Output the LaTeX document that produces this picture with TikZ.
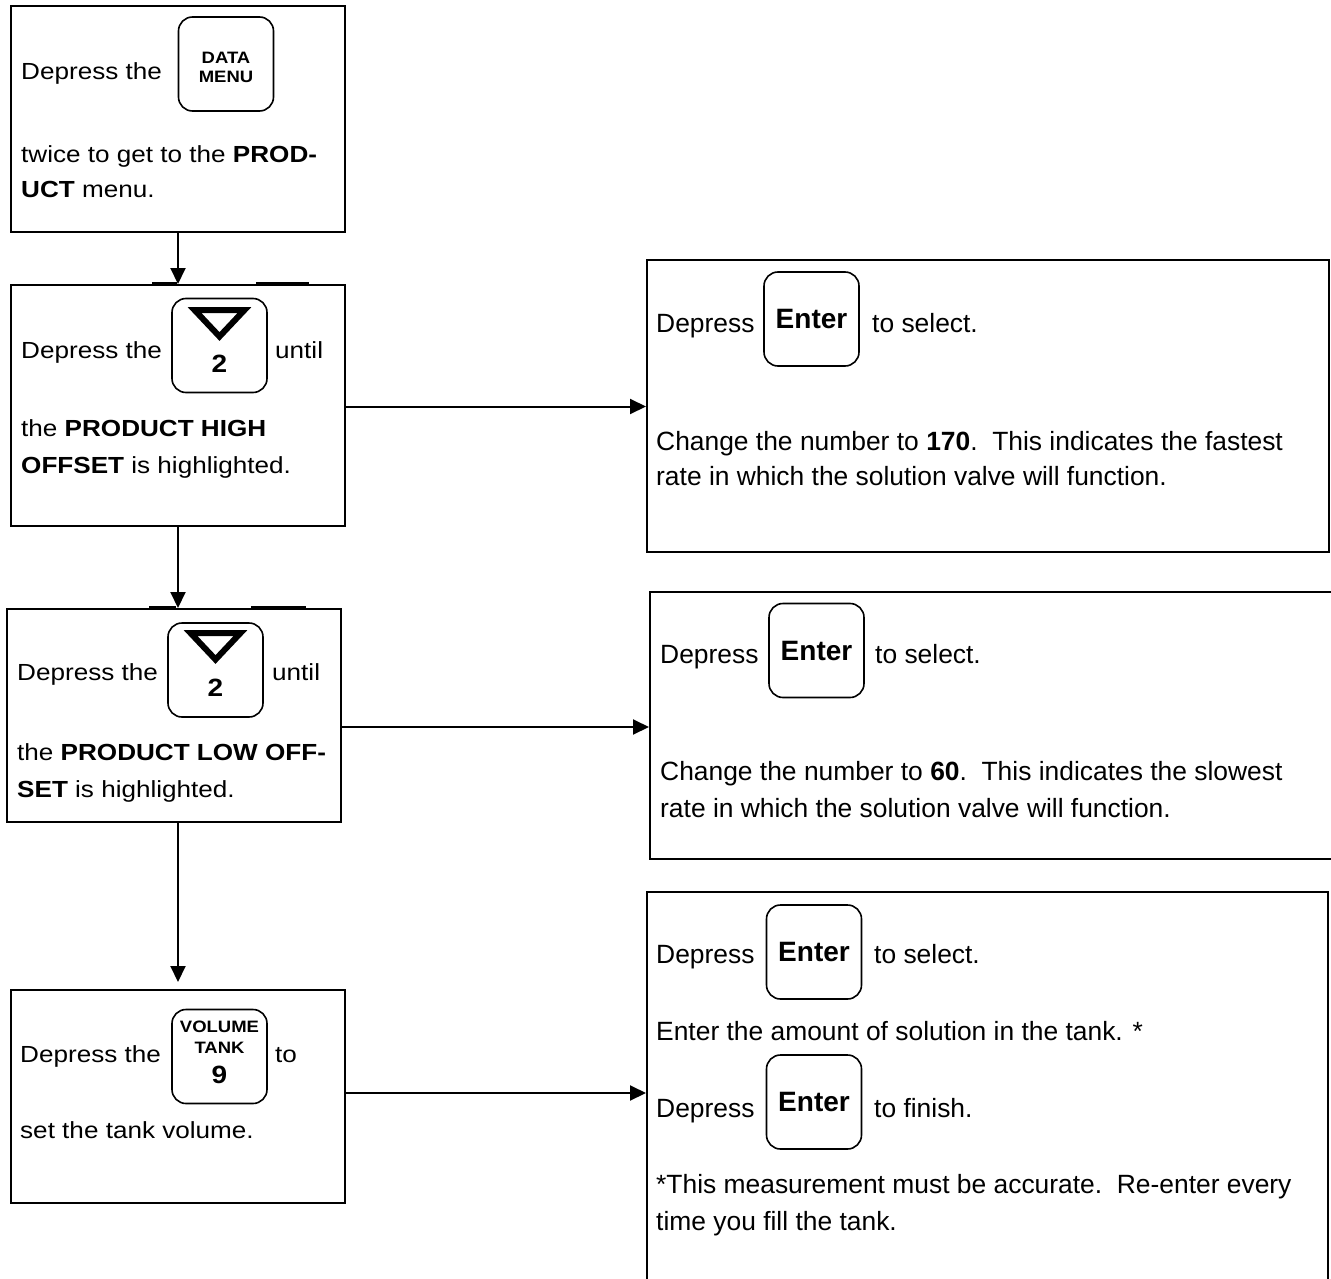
\documentclass[tikz,border=0pt]{standalone}
\usepackage{fontspec}
\setmainfont{Liberation Sans}
\newfontfamily\lsf{Liberation Sans}[FakeStretch=1.12]
\usetikzlibrary{arrows.meta,calc}
\begin{document}
\begin{tikzpicture}[x=1pt,y=-1pt,
  box/.style={draw, line width=2pt, rectangle, inner sep=0pt},
  key/.style={draw, line width=1.6pt, rounded corners=14pt, minimum width=95pt, minimum height=94pt, inner sep=0pt},
  lt/.style={inner sep=0pt, anchor=base west, font=\lsf\fontsize{23.3}{28}\selectfont},
  rt/.style={inner sep=0pt, anchor=base west, font=\fontsize{26.4}{31}\selectfont},
  klab/.style={inner sep=0pt, font=\lsf\bfseries\fontsize{16.5}{18}\selectfont},
  knum/.style={inner sep=0pt, font=\lsf\bfseries\fontsize{25}{28}\selectfont},
  enter/.style={key, font=\bfseries\fontsize{28}{30}\selectfont},
  arr/.style={line width=2pt, -{Triangle[length=16pt,width=15pt]}},
  tri/.style={line width=6pt, line join=miter},
  seam/.style={line width=2pt}]
\clip (0,0) rectangle (1331,1279);
\fill[white] (0,0) rectangle (1331,1279);

% left boxes
\node[box, minimum width=334pt, minimum height=226pt] (b1) at (178,119) {};
\node[box, minimum width=334pt, minimum height=241pt] (b2) at (178,405.5) {};
\node[box, minimum width=334pt, minimum height=213pt] (b3) at (174,715.5) {};
\node[box, minimum width=334pt, minimum height=213pt] (b4) at (178,1096.5) {};

% right boxes
\node[box, minimum width=682pt, minimum height=292pt] (r1) at (988,406) {};
\node[box, minimum width=695pt, minimum height=267pt] (r2) at (997.5,725.5) {};
\node[box, minimum width=681pt, minimum height=403pt] (r3) at (987.5,1093.5) {};

% seams on top of b2, b3
\draw[seam] ($(b2.north west)+(142,-1.5)$) -- ($(b2.north west)+(167,-1.5)$);
\draw[seam] ($(b2.north west)+(246,-1.5)$) -- ($(b2.north west)+(299,-1.5)$);
\draw[seam] ($(b3.north west)+(143,-1.5)$) -- ($(b3.north west)+(170,-1.5)$);
\draw[seam] ($(b3.north west)+(245,-1.5)$) -- ($(b3.north west)+(300,-1.5)$);

% box 1
\node[lt] (t1a) at (21,80) {Depress the};
\node[key] (k1) at (226,64) {};
\node[klab] (k1a) at ($(k1.center)+(0,-6.5)$) {DATA};
\node[klab] (k1b) at ($(k1.center)+(0,13)$) {MENU};
\node[lt] (t1b) at (21,163) {twice to get to the \textbf{PROD-}};
\node[lt] (t1c) at (21,197) {\textbf{UCT} menu.};

% box 2
\node[lt] (t2a) at (21,358) {Depress the};
\node[key] (k2) at (219.5,345.5) {};
\draw[tri] ($(k2.center)+(-25,-35.5)$) -- ($(k2.center)+(25,-35.5)$) -- ($(k2.center)+(0,-9)$) -- cycle;
\node[knum] (k2n) at ($(k2.center)+(0,18.5)$) {2};
\node[lt] (t2b) at (275,358) {until};
\node[lt] (t2c) at (21,436) {the \textbf{PRODUCT HIGH}};
\node[lt] (t2d) at (21,473) {\textbf{OFFSET} is highlighted.};

% box 3
\node[lt] (t3a) at (17,680) {Depress the};
\node[key] (k3) at (215.5,670) {};
\draw[tri] ($(k3.center)+(-25,-37)$) -- ($(k3.center)+(25,-37)$) -- ($(k3.center)+(0,-10.5)$) -- cycle;
\node[knum] (k3n) at ($(k3.center)+(0,17.5)$) {2};
\node[lt] (t3b) at (272,680) {until};
\node[lt] (t3c) at (17,760) {the \textbf{PRODUCT LOW OFF-}};
\node[lt] (t3d) at (17,797) {\textbf{SET} is highlighted.};

% box 4
\node[lt] (t4a) at (20,1062) {Depress the};
\node[key] (k4) at (219.5,1056.5) {};
\node[klab] (k4a) at ($(k4.center)+(0,-29.5)$) {VOLUME};
\node[klab] (k4b) at ($(k4.center)+(0,-8.5)$) {TANK};
\node[knum] (k4n) at ($(k4.center)+(0,18.5)$) {9};
\node[lt] (t4b) at (275,1062) {to};
\node[lt] (t4c) at (20,1138) {set the tank volume.};

% right box 1
\node[rt] (u1a) at (656,332) {Depress};
\node[enter] (e1) at (811.5,319) {Enter};
\node[rt] (u1b) at (872,332) {to select.};
\node[rt] (u1c) at (656,450) {Change the number to \textbf{170}.\ \ This indicates the fastest};
\node[rt] (u1d) at (656,485) {rate in which the solution valve will function.};

% right box 2
\node[rt] (u2a) at (660,663) {Depress};
\node[enter] (e2) at (816.5,650.5) {Enter};
\node[rt] (u2b) at (875,663) {to select.};
\node[rt] (u2c) at (660,780) {Change the number to \textbf{60}.\ \ This indicates the slowest};
\node[rt] (u2d) at (660,817) {rate in which the solution valve will function.};

% right box 3
\node[rt] (u3a) at (656,963) {Depress};
\node[enter] (e3) at (814,952) {Enter};
\node[rt] (u3b) at (874,963) {to select.};
\node[rt] (u3c) at (656,1040) {Enter the amount of solution in the tank. *};
\node[rt] (u3d) at (656,1117) {Depress};
\node[enter] (e4) at (814,1102) {Enter};
\node[rt] (u3e) at (874,1117) {to finish.};
\node[rt] (u3f) at (656,1193) {*This measurement must be accurate.\ \ Re-enter every};
\node[rt] (u3g) at (656,1230) {time you fill the tank.};

% connectors
\draw[arr] (b1.south) -- (b2.north);
\draw[arr] (b2.south) -- (b2.south |- b3.north);
\draw[arr] (b3.south -| b4.north) -- ([yshift=7pt]b4.north);
\draw[arr] ([yshift=-1pt]b2.east) -- ([yshift=-1pt]b2.east -| r1.west);
\draw[arr] ([yshift=-11.5pt]b3.east) -- ([yshift=-11.5pt]b3.east -| r2.west);
\draw[arr] ([yshift=3.5pt]b4.east) -- ([yshift=3.5pt]b4.east -| r3.west);
\end{tikzpicture}
\end{document}
